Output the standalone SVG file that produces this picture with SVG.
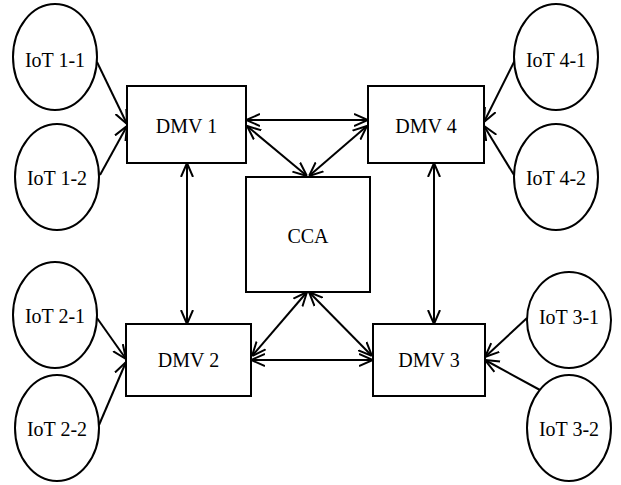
<svg xmlns="http://www.w3.org/2000/svg" width="621" height="485" viewBox="0 0 621 485">
<style>
.n{fill:#fff;stroke:#000;stroke-width:2}
.t{font-family:"Liberation Serif","Times New Roman",serif;font-size:20px;text-anchor:middle;fill:#000}
.c line{stroke:#000;stroke-width:2;fill:none}
</style>
<defs>
<marker id="a" viewBox="0 0 14 14" refX="14" refY="7" markerWidth="14" markerHeight="14" markerUnits="userSpaceOnUse" orient="auto-start-reverse">
<path d="M0,1 L14,7 L0,13" fill="none" stroke="#000" stroke-width="2"/>
</marker>
</defs>
<rect width="621" height="485" fill="#fff"/>
<g class="c" id="connectors">
<line x1="97" y1="62" x2="127" y2="124" marker-end="url(#a)"/>
<line x1="100" y1="175" x2="127" y2="126" marker-end="url(#a)"/>
<line x1="246" y1="120" x2="368" y2="120" marker-start="url(#a)" marker-end="url(#a)"/>
<line x1="247" y1="126" x2="307" y2="176" marker-start="url(#a)" marker-end="url(#a)"/>
<line x1="367" y1="126" x2="309" y2="176" marker-start="url(#a)" marker-end="url(#a)"/>
<line x1="187" y1="163" x2="187" y2="324" marker-start="url(#a)" marker-end="url(#a)"/>
<line x1="434" y1="163" x2="434" y2="324" marker-start="url(#a)" marker-end="url(#a)"/>
<line x1="252" y1="356" x2="307" y2="292" marker-start="url(#a)" marker-end="url(#a)"/>
<line x1="372" y1="356" x2="309" y2="292" marker-start="url(#a)" marker-end="url(#a)"/>
<line x1="251" y1="360" x2="373" y2="360" marker-start="url(#a)" marker-end="url(#a)"/>
<line x1="97" y1="318" x2="126" y2="359" marker-end="url(#a)"/>
<line x1="99" y1="425" x2="126" y2="362" marker-end="url(#a)"/>
<line x1="515" y1="60" x2="484" y2="122" marker-end="url(#a)"/>
<line x1="514" y1="175" x2="484" y2="126" marker-end="url(#a)"/>
<line x1="527" y1="318" x2="485" y2="357" marker-end="url(#a)"/>
<line x1="540" y1="390" x2="485" y2="360" marker-end="url(#a)"/>
</g>
<g id="dmv1"><rect class="n" x="127" y="86" width="119" height="77"/><text class="t" x="186.5" y="133">DMV 1</text></g>
<g id="dmv4"><rect class="n" x="368" y="86" width="116" height="77"/><text class="t" x="426" y="133">DMV 4</text></g>
<g id="dmv2"><rect class="n" x="126" y="324" width="125" height="72"/><text class="t" x="188.5" y="367">DMV 2</text></g>
<g id="dmv3"><rect class="n" x="373" y="324" width="112" height="72"/><text class="t" x="429" y="367">DMV 3</text></g>
<g id="cca"><rect class="n" x="246" y="177" width="124" height="115"/><text class="t" x="308" y="243">CCA</text></g>
<g id="iot11"><ellipse class="n" cx="55" cy="57" rx="42" ry="53"/><text class="t" x="55" y="67">IoT 1-1</text></g>
<g id="iot12"><ellipse class="n" cx="57" cy="177" rx="42" ry="53"/><text class="t" x="57" y="185">IoT 1-2</text></g>
<g id="iot21"><ellipse class="n" cx="55" cy="315" rx="42" ry="53"/><text class="t" x="55" y="323">IoT 2-1</text></g>
<g id="iot22"><ellipse class="n" cx="57" cy="428" rx="42" ry="53"/><text class="t" x="57" y="436">IoT 2-2</text></g>
<g id="iot41"><ellipse class="n" cx="556" cy="57" rx="42" ry="53"/><text class="t" x="556" y="67">IoT 4-1</text></g>
<g id="iot42"><ellipse class="n" cx="556" cy="177" rx="42" ry="53"/><text class="t" x="556" y="185">IoT 4-2</text></g>
<g id="iot31"><ellipse class="n" cx="569" cy="320" rx="42" ry="48"/><text class="t" x="569" y="324">IoT 3-1</text></g>
<g id="iot32"><ellipse class="n" cx="569" cy="428" rx="42" ry="53"/><text class="t" x="569" y="436">IoT 3-2</text></g>
</svg>
